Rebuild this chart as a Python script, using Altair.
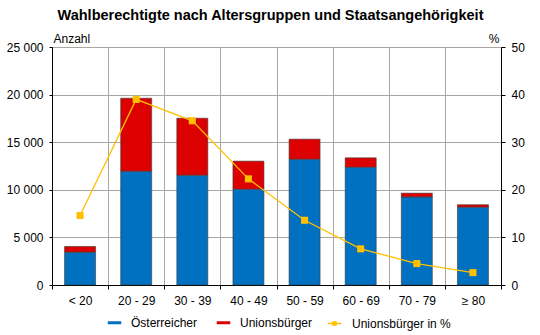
import altair as alt
import pandas as pd

categories = ["< 20", "20 - 29", "30 - 39", "40 - 49", "50 - 59", "60 - 69", "70 - 79", "≥ 80"]
oesterreicher = [3450, 11960, 11540, 10070, 13220, 12380, 9260, 8180]
unionsbuerger = [600, 7660, 5980, 2940, 2100, 980, 390, 250]
prozent = [14.6, 39.0, 34.5, 22.3, 13.6, 7.6, 4.5, 2.6]

bar_series = ["Österreicher", "Unionsbürger"]
bar_colors = ["#0070C0", "#DD0000"]
line_series = "Unionsbürger in %"
line_color = "#FFC000"

rows = []
for c, o, u in zip(categories, oesterreicher, unionsbuerger):
    rows.append({"Alter": c, "Serie": bar_series[0], "Wert": o, "ord": 0})
    rows.append({"Alter": c, "Serie": bar_series[1], "Wert": u, "ord": 1})
bars_df = pd.DataFrame(rows)
line_df = pd.DataFrame({"Alter": categories, "Prozent": prozent})

FONT = "Liberation Sans"

x_enc = alt.X(
    "Alter:N",
    sort=categories,
    scale=alt.Scale(paddingInner=0, paddingOuter=0),
    axis=alt.Axis(
        title=None, labelAngle=0, tickBand="extent", grid=True,
        gridColor="#a8a8a0", gridWidth=1, domainColor="#000000",
        tickColor="#000000", tickSize=4, labelPadding=6,
        labelFont=FONT, labelFontSize=12, labelColor="#000000",
    ),
)

bars = alt.Chart(bars_df).mark_bar(size=31, stroke="#3a3a3a", strokeWidth=0.6).encode(
    x=x_enc,
    y=alt.Y(
        "Wert:Q", stack="zero",
        scale=alt.Scale(domain=[0, 25000], nice=False),
        axis=alt.Axis(
            values=[0, 5000, 10000, 15000, 20000, 25000],
            labelExpr="replace(format(datum.value, ','), ',', ' ')",
            title="Anzahl", titleAngle=0, titleAlign="left", titleBaseline="alphabetic",
            titleX=1, titleY=-5, titleFont=FONT, titleFontSize=12, titleFontWeight="normal",
            titleColor="#000000",
            grid=True, gridColor="#a8a8a0", gridWidth=1,
            domainColor="#000000", tickColor="#000000", tickSize=3, labelPadding=6,
            labelFont=FONT, labelFontSize=12, labelColor="#000000",
        ),
    ),
    color=alt.Color(
        "Serie:N",
        scale=alt.Scale(domain=bar_series, range=bar_colors),
        legend=alt.Legend(
            title=None, orient="none", direction="horizontal", legendX=49, legendY=262,
            labelFont=FONT, labelFontSize=12, labelColor="#000000",
            symbolType="M-0.5,-0.11H0.5V0.11H-0.5Z", symbolSize=729,
            symbolStrokeWidth=0, labelOffset=3, columnPadding=12,
        ),
    ),
    order=alt.Order("ord:Q"),
)

line = alt.Chart(line_df).mark_line(
    strokeWidth=1.3,
    point=alt.OverlayMarkDef(shape="square", size=50, filled=True, color=line_color, opacity=1),
).encode(
    x=alt.X("Alter:N", sort=categories),
    y=alt.Y(
        "Prozent:Q",
        scale=alt.Scale(domain=[0, 50], nice=False),
        axis=alt.Axis(
            orient="right", values=[0, 10, 20, 30, 40, 50],
            title="%", titleAngle=0, titleAlign="right", titleBaseline="alphabetic",
            titleX=-2, titleY=-5, titleFont=FONT, titleFontSize=12, titleFontWeight="normal",
            titleColor="#000000", grid=False,
            domainColor="#000000", tickColor="#000000", tickSize=4, labelPadding=6,
            labelFont=FONT, labelFontSize=12, labelColor="#000000",
        ),
    ),
    color=alt.Color(
        "s:N",
        scale=alt.Scale(domain=[line_series], range=[line_color]),
        legend=alt.Legend(
            title=None, orient="none", direction="horizontal", legendX=268, legendY=262,
            labelFont=FONT, labelFontSize=12, labelColor="#000000",
            symbolType="M-0.5,0H0.5M-0.12,-0.12H0.12V0.12H-0.12Z", symbolSize=729,
            symbolFillColor=line_color, symbolStrokeColor=line_color,
            symbolStrokeWidth=1.3, labelOffset=3,
        ),
    ),
).transform_calculate(s="'" + line_series + "'")

chart = alt.layer(bars, line).resolve_scale(y="independent", color="independent").properties(
    width=449, height=238,
    title=alt.Title(
        "Wahlberechtigte nach Altersgruppen und Staatsangehörigkeit",
        font=FONT, fontSize=14.5, fontWeight="bold", color="#000000",
        anchor="middle", dx=-6, offset=9,
    ),
    autosize=alt.AutoSizeParams(type="none"),
    padding={"left": 52, "top": 47, "right": 39, "bottom": 50},
).configure_view(
    fill="#FFFDE8", stroke=None,
).configure(background="#ffffff")

chart.save("out.html", embed_options={"renderer": "svg", "actions": False})
